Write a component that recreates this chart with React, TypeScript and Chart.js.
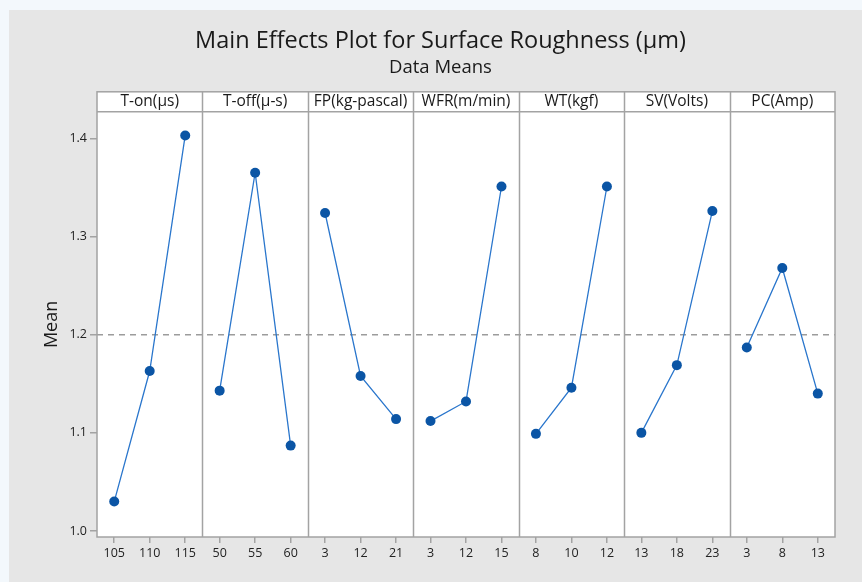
import React, { useEffect, useRef } from "react";
import { Chart, registerables } from "chart.js";

Chart.register(...registerables);

const FACTORS = ["T-on(µs)", "T-off(µ-s)", "FP(kg-pascal)", "WFR(m/min)", "WT(kgf)", "SV(Volts)", "PC(Amp)"];

const LEVELS_TON = ["105", "110", "115"];
const LEVELS_TOFF = ["50", "55", "60"];
const LEVELS_FP = ["3", "12", "21"];
const LEVELS_WFR = ["3", "12", "15"];
const LEVELS_WT = ["8", "10", "12"];
const LEVELS_SV = ["13", "18", "23"];
const LEVELS_PC = ["3", "8", "13"];

const MEANS_TON = [1.030, 1.163, 1.403];
const MEANS_TOFF = [1.143, 1.365, 1.087];
const MEANS_FP = [1.324, 1.158, 1.114];
const MEANS_WFR = [1.112, 1.132, 1.351];
const MEANS_WT = [1.099, 1.146, 1.351];
const MEANS_SV = [1.100, 1.169, 1.326];
const MEANS_PC = [1.187, 1.268, 1.140];

const GRAND_MEAN = 1.2;
const Y_TICKS = [1.0, 1.1, 1.2, 1.3, 1.4];

const LEVELS = [LEVELS_TON, LEVELS_TOFF, LEVELS_FP, LEVELS_WFR, LEVELS_WT, LEVELS_SV, LEVELS_PC];
const MEANS = [MEANS_TON, MEANS_TOFF, MEANS_FP, MEANS_WFR, MEANS_WT, MEANS_SV, MEANS_PC];

const SPAN = 2.97;
const PAD = 0.485;
const X_MIN = -PAD;
const X_MAX = (FACTORS.length - 1) * SPAN + 2 + PAD;

const FONT = "'Open Sans', 'Noto Sans', sans-serif";
const FRAME = "#a3a3a3";

const tickPositions: number[] = [];
const tickLabels: string[] = [];
LEVELS.forEach((lv, p) => lv.forEach((l, i) => { tickPositions.push(p * SPAN + i); tickLabels.push(l); }));

const panelPlugin = {
  id: "panels",
  beforeDraw(chart: any) {
    const { ctx, chartArea: a } = chart;
    ctx.save();
    ctx.fillStyle = "#ffffff";
    ctx.fillRect(a.left, a.top, a.right - a.left, a.bottom - a.top);
    ctx.fillRect(a.left, a.top - 20, a.right - a.left, 20);
    ctx.restore();
  },
  beforeDatasetsDraw(chart: any) {
    const { ctx, chartArea: a, scales } = chart;
    const xs = scales.x;
    ctx.save();
    ctx.strokeStyle = FRAME;
    ctx.lineWidth = 1.5;
    for (let p = 1; p < FACTORS.length; p++) {
      const x = Math.round(xs.getPixelForValue(p * SPAN - PAD)) + 0.5;
      ctx.beginPath();
      ctx.moveTo(x, a.top - 20);
      ctx.lineTo(x, a.bottom);
      ctx.stroke();
    }
    ctx.restore();
  },
  afterDraw(chart: any) {
    const { ctx, chartArea: a, scales } = chart;
    const xs = scales.x;
    ctx.save();
    ctx.strokeStyle = FRAME;
    ctx.lineWidth = 1.5;
    ctx.strokeRect(a.left, a.top - 20, a.right - a.left, a.bottom - a.top + 20);
    ctx.beginPath();
    ctx.moveTo(a.left, a.top);
    ctx.lineTo(a.right, a.top);
    ctx.stroke();
    ctx.fillStyle = "#1a1a1a";
    ctx.font = `15.5px ${FONT}`;
    ctx.textAlign = "center";
    ctx.textBaseline = "middle";
    FACTORS.forEach((f, p) => {
      const cx = (xs.getPixelForValue(p * SPAN - PAD) + xs.getPixelForValue(p * SPAN + 2 + PAD)) / 2;
      ctx.fillText(f, cx, a.top - 10);
    });
    ctx.restore();
  },
};

export default function App() {
  const ref = useRef<HTMLCanvasElement | null>(null);
  useEffect(() => {
    if (!ref.current) return;
    const datasets: any[] = MEANS.map((m, p) => ({
      data: m.map((v, i) => ({ x: p * SPAN + i, y: v })),
      borderColor: "#2a76cc",
      borderWidth: 1.3,
      pointBackgroundColor: "#0b55a5",
      pointBorderColor: "#0b55a5",
      pointBorderWidth: 0,
      pointRadius: 5,
      order: 1,
    }));
    datasets.push({
      data: [{ x: X_MIN, y: GRAND_MEAN }, { x: X_MAX, y: GRAND_MEAN }],
      borderColor: "#9c9c9c",
      borderWidth: 1.5,
      borderDash: [6, 5],
      pointRadius: 0,
      order: 5,
    });
    const chart = new Chart(ref.current, {
      type: "line",
      data: { datasets },
      plugins: [panelPlugin],
      options: {
        animation: false,
        responsive: false,
        maintainAspectRatio: false,
        layout: { padding: { left: 10, right: 0, top: 0, bottom: 0 } },
        plugins: {
          legend: { display: false },
          tooltip: { enabled: false },
          title: {
            display: true,
            text: "Main Effects Plot for Surface Roughness (µm)",
            color: "#1a1a1a",
            font: { family: FONT, size: 23.5, weight: "normal" },
            padding: { top: 17.4, bottom: 0 },
          },
          subtitle: {
            display: true,
            text: "Data Means",
            color: "#1a1a1a",
            font: { family: FONT, size: 18.5, weight: "normal" },
            padding: { top: 1, bottom: 33 },
          },
        },
        scales: {
          x: {
            type: "linear",
            min: X_MIN,
            max: X_MAX,
            afterBuildTicks: (s: any) => { s.ticks = tickPositions.map((v) => ({ value: v })); },
            afterFit: (s: any) => { s.height = 45; },
            border: { display: false },
            grid: { drawOnChartArea: false, drawTicks: true, tickLength: 6, color: FRAME, lineWidth: 1.5 },
            ticks: {
              autoSkip: false,
              maxRotation: 0,
              padding: 3,
              color: "#222",
              font: { family: FONT, size: 12.5 },
              callback: (_v: any, i: number) => tickLabels[i],
            },
          },
          y: {
            min: 0.9939,
            max: 1.4271,
            afterBuildTicks: (s: any) => { s.ticks = Y_TICKS.map((v) => ({ value: v })); },
            afterFit: (s: any) => { s.width = 78; },
            border: { display: false },
            grid: { drawOnChartArea: false, drawTicks: true, tickLength: 7, color: FRAME, lineWidth: 1.5 },
            ticks: {
              padding: 3,
              color: "#222",
              font: { family: FONT, size: 12.5 },
              callback: (v: any) => Number(v).toFixed(1),
            },
            title: {
              display: true,
              text: "Mean",
              color: "#1a1a1a",
              font: { family: FONT, size: 18 },
              padding: { top: 22.2, bottom: 0 },
            },
          },
          spacer: {
            type: "linear",
            position: "right",
            afterFit: (s: any) => { s.width = 27; },
            border: { display: false },
            grid: { display: false },
            ticks: { display: false },
          },
        },
      },
    });
    return () => chart.destroy();
  }, []);
  return (
    <div style={{ position: "fixed", left: 0, top: 0, width: 862, height: 582, background: "#f3f8fc" }}>
      <canvas
        ref={ref}
        width={853}
        height={572}
        style={{ position: "absolute", left: 9, top: 10, width: 853, height: 572, background: "#e6e6e6" }}
      />
    </div>
  );
}
